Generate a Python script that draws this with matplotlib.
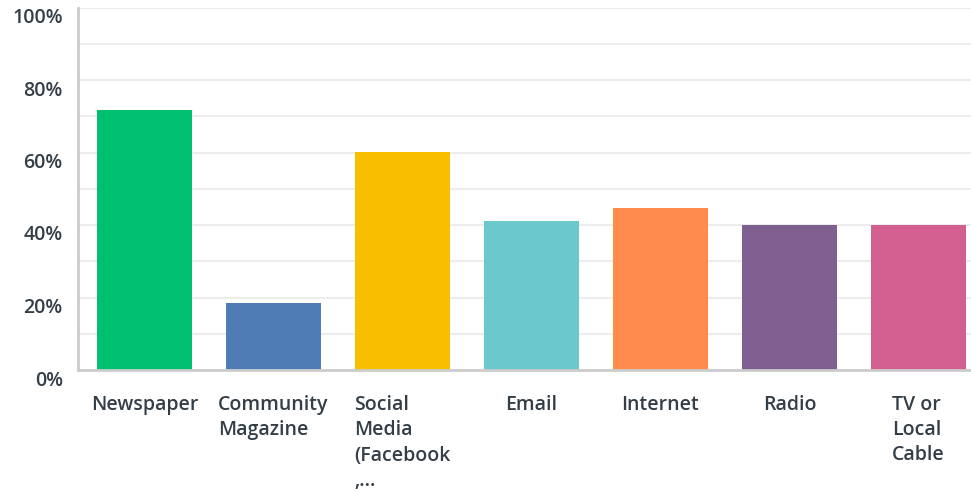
#!/usr/bin/env python3
"""Bar chart of communication channels (percent of respondents)."""

import matplotlib
matplotlib.use("Agg")
import matplotlib.pyplot as plt
import matplotlib.transforms as mtransforms

# --- data ---------------------------------------------------------------
categories = ["Newspaper", "Community\nMagazine", "Social\nMedia\n(Facebook\n,...",
              "Email", "Internet", "Radio", "TV or\nLocal\nCable"]
values = [71.7, 18.5, 60.1, 41.1, 44.7, 40.0, 40.0]
colors = ["#00bf6f", "#507cb6", "#f9be00", "#6bc8cd", "#ff8b4f", "#7f5f90", "#d25f90"]
yticks = [0, 20, 40, 60, 80, 100]
ytick_labels = ["0%", "20%", "40%", "60%", "80%", "100%"]

text_color = "#333e48"
plt.rcParams["font.family"] = ["Open Sans", "DejaVu Sans"]

fig = plt.figure(figsize=(9.71, 4.91), dpi=100)
ax = fig.add_axes([78 / 971, 121 / 491, 1 - 78 / 971, 362.5 / 491])

x = list(range(len(categories)))
ax.bar(x, values, width=0.736, color=colors, zorder=3)

ax.set_ylim(0, 100)
ax.set_xlim(-0.5155, 6.407)

# gridlines every 10%
ax.set_yticks(yticks)
ax.set_yticks(range(10, 100, 20), minor=True)
ax.yaxis.grid(True, which="both", color="#ececec", linewidth=1.5, zorder=0)
ax.tick_params(axis="y", which="both", length=0, pad=11, labelsize=14,
               labelcolor=text_color)
ax.set_yticklabels(ytick_labels, fontweight="semibold")
offset = mtransforms.ScaledTranslation(0, -8 / 100, fig.dpi_scale_trans)
for lab in ax.get_yticklabels():
    lab.set_transform(lab.get_transform() + offset)

ax.set_xticks(x)
ax.set_xticklabels(categories, fontweight="semibold", linespacing=1.35)
ax.tick_params(axis="x", length=0, pad=18, labelsize=14, labelcolor=text_color)
for lab in ax.get_xticklabels():
    lab.set_multialignment("left")

for side in ["top", "right"]:
    ax.spines[side].set_visible(False)
for side in ["left", "bottom"]:
    ax.spines[side].set_color("#cccccc")
    ax.spines[side].set_linewidth(2)
    ax.spines[side].set_zorder(4)

fig.savefig("out.png", dpi=100)
